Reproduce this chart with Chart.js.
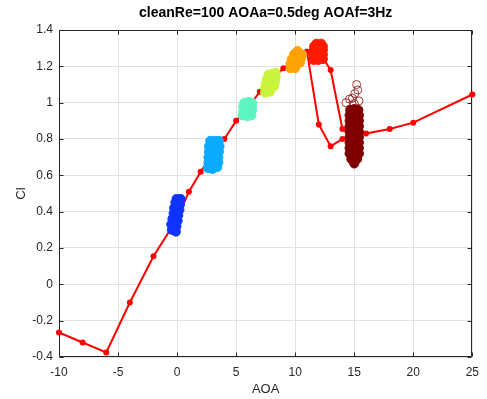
<!DOCTYPE html>
<html>
<head>
<meta charset="utf-8">
<script src="https://cdn.jsdelivr.net/npm/chart.js@4.4.1/dist/chart.umd.min.js"></script>
<style>
  html, body { margin: 0; padding: 0; background: #fff; }
</style>
</head>
<body>
<canvas id="grafico" width="487" height="399"></canvas>
<script>
// textos
const titulo = 'cleanRe=100 AOAa=0.5deg AOAf=3Hz'
const rotuloX = 'AOA'
const rotuloY = 'Cl'

// ticks
const ticksX = [-10, -5, 0, 5, 10, 15, 20, 25]
const ticksY = [-0.4, -0.2, 0, 0.2, 0.4, 0.6, 0.8, 1, 1.2, 1.4]

// curva estatica (linha vermelha)
const aoaLinha = [-10, -8, -6, -4, -2, 0, 1, 2, 3, 4, 5, 6, 7, 8, 9, 10, 11, 12, 13, 14, 15, 16, 18, 20, 25]
const clLinha = [-0.265, -0.32, -0.375, -0.1, 0.155, 0.36, 0.51, 0.62, 0.72, 0.80, 0.90, 0.97, 1.06, 1.12, 1.19, 1.23, 1.28, 1.28, 1.18, 0.855, 0.82, 0.83, 0.855, 0.89, 1.045]
// ramo de volta (histerese)
const aoaRamo = [11, 12, 13, 14, 15]
const clRamo = [1.28, 0.88, 0.76, 0.80, 0.82]

// nuvens de pontos do caso oscilante
const nuvemAzul = [[-0.45,0.30],[-0.1,0.29],[-0.5,0.33],[-0.05,0.32],[-0.2,0.34],[-0.4,0.36],[0.05,0.35],[-0.3,0.39],[-0.1,0.40],[0.1,0.38],
  [-0.25,0.42],[0.0,0.43],[0.2,0.41],[-0.15,0.45],[0.25,0.44],[-0.05,0.47],[0.3,0.47],[0.1,0.465]]
const nuvemCiano = [[2.6,0.64],[3.0,0.635],[3.4,0.645],[2.65,0.67],[3.1,0.67],[3.5,0.67],[2.65,0.70],[3.1,0.70],[3.5,0.70],
  [2.7,0.73],[3.15,0.73],[3.55,0.73],[2.7,0.76],[3.15,0.76],[3.6,0.76],[2.8,0.79],[3.2,0.79],[3.55,0.79]]
const nuvemVerde = [[5.55,0.93],[5.95,0.925],[6.3,0.93],[5.6,0.955],[6.0,0.955],[6.35,0.96],[5.6,0.98],[6.0,0.98],[6.35,0.985],
  [5.7,1.0],[6.05,1.005],[6.35,1.0]]
const nuvemLima = [[7.45,1.055],[7.85,1.06],[7.45,1.08],[7.85,1.085],[8.2,1.09],[7.5,1.105],[7.9,1.11],[8.3,1.115],[7.6,1.13],
  [8.0,1.135],[8.35,1.14],[7.75,1.155],[8.1,1.16],[8.35,1.165]]
const nuvemLaranja = [[9.6,1.19],[10.0,1.19],[9.6,1.215],[10.0,1.215],[10.4,1.22],[9.7,1.24],[10.1,1.245],[10.5,1.245],
  [9.9,1.265],[10.3,1.27],[10.6,1.265],[10.2,1.285]]
const nuvemVermelha = [[11.55,1.235],[11.95,1.235],[12.35,1.24],[11.55,1.26],[11.95,1.26],[12.35,1.265],[11.55,1.285],[11.95,1.285],
  [12.35,1.29],[11.6,1.31],[12.0,1.315],[12.35,1.31],[11.8,1.325],[12.2,1.325]]
const nuvemVinho = [[15.0,0.665],[14.75,0.69],[15.25,0.69],
  [14.6,0.72],[15.0,0.72],[15.4,0.72],[14.6,0.75],[15.0,0.75],[15.4,0.75],[14.6,0.78],[15.0,0.78],[15.4,0.78],
  [14.6,0.81],[15.0,0.81],[15.4,0.81],[14.6,0.84],[15.0,0.84],[15.4,0.84],[14.6,0.87],[15.0,0.87],[15.4,0.87],
  [14.6,0.90],[15.0,0.90],[15.4,0.90],[14.6,0.93],[15.0,0.93],[15.4,0.93],[14.65,0.96],[15.0,0.965],[15.35,0.96]]
const vinhoSoltos = [[15.2,1.10],[15.3,1.07],[15.05,1.05],[14.6,1.02],[14.85,1.025],[15.4,1.01],[14.3,1.0],[15.0,0.995]]

function pares(lista) {
  return lista.map(p => ({x: p[0], y: p[1]}))
}

function nuvem(lista, cor) {
  return {
    data: pares(lista),
    backgroundColor: cor,
    borderColor: cor,
    borderWidth: 1,
    pointRadius: 4.5,
    pointHoverRadius: 4.5,
    showLine: false,
    order: 1
  }
}

const soltos = {
  data: pares(vinhoSoltos),
  backgroundColor: 'rgba(0,0,0,0)',
  borderColor: 'rgba(128,0,0,0.75)',
  borderWidth: 1,
  pointRadius: 4,
  showLine: false,
  order: 1
}

function linha(xs, ys) {
  return {
    data: xs.map((v, i) => ({x: v, y: ys[i]})),
    borderColor: '#ff0000',
    backgroundColor: '#ff0000',
    borderWidth: 2,
    pointRadius: 3,
    pointBorderWidth: 0,
    showLine: true,
    fill: false,
    clip: false,
    order: 2
  }
}

const fonte = 'Liberation Sans, Arial, Helvetica, sans-serif'

const moldura = {
  id: 'moldura',
  beforeDatasetsDraw(chart) {
    const ctx = chart.ctx
    const a = chart.chartArea
    const sx = chart.scales.x
    const sy = chart.scales.y
    const l = Math.round(a.left) + 0.5, r = Math.round(a.right) - 0.5
    const t = Math.round(a.top) + 0.5, b = Math.round(a.bottom) - 0.5
    ctx.save()
    ctx.strokeStyle = '#262626'
    ctx.lineWidth = 1
    ctx.beginPath()
    ctx.rect(l, t, r - l, b - t)
    ticksX.forEach(v => {
      const px = Math.round(sx.getPixelForValue(v)) + 0.5
      ctx.moveTo(px, b); ctx.lineTo(px, b - 4)
      ctx.moveTo(px, t); ctx.lineTo(px, t + 4)
    })
    ticksY.forEach(v => {
      const py = Math.round(sy.getPixelForValue(v)) + 0.5
      ctx.moveTo(l, py); ctx.lineTo(l + 4, py)
      ctx.moveTo(r, py); ctx.lineTo(r - 4, py)
    })
    ctx.stroke()
    ctx.restore()
  },
  afterDraw(chart) {
    const ctx = chart.ctx
    const a = chart.chartArea
    const cx = (a.left + a.right) / 2
    ctx.save()
    ctx.fillStyle = '#000'
    ctx.textAlign = 'center'
    ctx.textBaseline = 'middle'
    ctx.font = 'bold 14px ' + fonte
    ctx.fillText(titulo, cx, 13)
    ctx.fillStyle = '#262626'
    ctx.font = '13px ' + fonte
    ctx.fillText(rotuloX, cx, 389)
    ctx.translate(21, (a.top + a.bottom) / 2)
    ctx.rotate(-Math.PI / 2)
    ctx.fillText(rotuloY, 0, 0)
    ctx.restore()
  }
}

const ctx = document.getElementById('grafico').getContext('2d')
const grafico = new Chart(ctx, {
  type: 'scatter',
  data: {
    datasets: [
      soltos,
      nuvem(nuvemVinho, '#800000'),
      nuvem(nuvemVermelha, '#ff1a00'),
      nuvem(nuvemLaranja, '#ffa200'),
      nuvem(nuvemLima, '#c8f53a'),
      nuvem(nuvemVerde, '#5cf5c0'),
      nuvem(nuvemCiano, '#0aaaff'),
      nuvem(nuvemAzul, '#0f34ff'),
      linha(aoaRamo, clRamo),
      linha(aoaLinha, clLinha)
    ]
  },
  options: {
    responsive: false,
    animation: false,
    devicePixelRatio: 1,
    layout: { padding: { top: 30, right: 14, left: 0, bottom: 0 } },
    plugins: { legend: { display: false }, tooltip: { enabled: false } },
    scales: {
      x: {
        type: 'linear',
        min: -10,
        max: 25,
        afterBuildTicks: s => { s.ticks = ticksX.map(v => ({value: v})) },
        afterFit: s => { s.height = 42 },
        ticks: { color: '#262626', font: { family: fonte, size: 12 }, padding: 8, maxRotation: 0 },
        grid: { color: '#e1e1e1', drawTicks: false },
        border: { display: false }
      },
      y: {
        type: 'linear',
        min: -0.4,
        max: 1.4,
        afterBuildTicks: s => { s.ticks = ticksY.map(v => ({value: v})) },
        afterFit: s => { s.width = 59 },
        ticks: { color: '#262626', font: { family: fonte, size: 12 }, padding: 6,
          callback: v => String(Math.round(v * 10) / 10) },
        grid: { color: '#e1e1e1', drawTicks: false },
        border: { display: false }
      }
    }
  },
  plugins: [moldura]
})
</script>
</body>
</html>
